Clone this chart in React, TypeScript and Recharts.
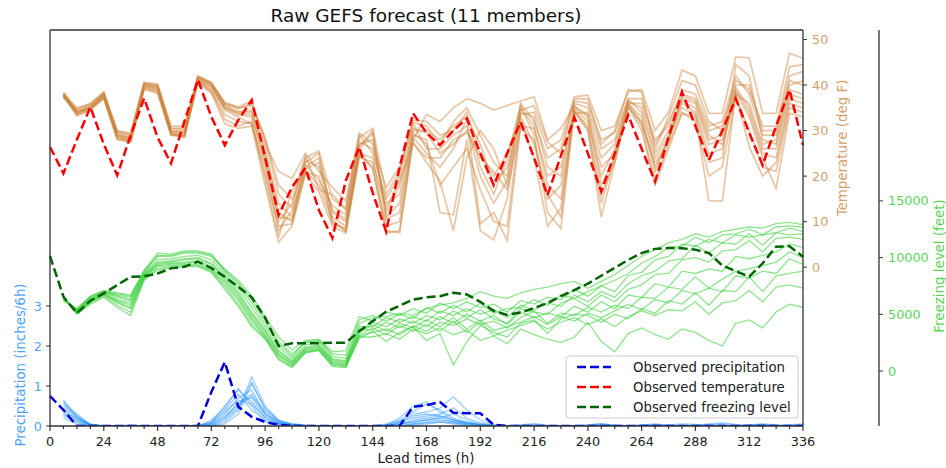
import React from 'react';
import { ComposedChart, Line, XAxis, YAxis } from 'recharts';

// lead times every 6 h
const leadTimes = [
  0, 6, 12, 18, 24, 30, 36, 42, 48, 54, 60, 66, 72, 78, 84, 90, 96, 102, 108, 114,
  120, 126, 132, 138, 144, 150, 156, 162, 168, 174, 180, 186, 192, 198, 204, 210,
  216, 222, 228, 234, 240, 246, 252, 258, 264, 270, 276, 282, 288, 294, 300, 306,
  312, 318, 324, 330, 336,
];
const precipTicks = [0, 1, 2, 3];
const tempTicks = [0, 10, 20, 30, 40, 50];
const freezeTicks = [0, 5000, 10000, 15000];

// observations (from 0 h)
const obsPrecip = [
  0.75, 0.4, 0, 0, 0, 0, 0, 0, 0, 0, 0, 0, 0.85, 1.6, 0.48, 0.23, 0.1, 0.03, 0, 0,
  0, 0, 0, 0, 0, 0, 0, 0.48, 0.52, 0.6, 0.33, 0.32, 0.32, 0.03, 0, 0, 0, 0, 0, 0,
  0, 0, 0, 0, 0, 0, 0, 0, 0, 0, 0, 0, 0, 0, 0, 0, 0,
];
const obsTemp = [
  26.4, 20.6, 28, 35.2, 27, 20.2, 29, 37.1, 28.5, 22.8, 32, 41.2, 33, 26.8, 32.3, 36.7,
  24, 11.4, 17.6, 21.8, 12.5, 6.4, 19, 26.4, 16.3, 7.8, 22, 33.8, 29.5, 26.8, 30, 32.7,
  25, 18, 25, 31.9, 24, 15.8, 24.5, 32.9, 25, 16.6, 25, 33.4, 26, 18.8, 28.5, 38.5,
  31, 23.5, 30, 37, 29.5, 22.4, 31, 39, 26.8,
];
const obsFreeze = [
  10140, 6550, 5100, 6200, 6850, 7580, 8300, 8350, 8600, 9050, 9200, 9640, 9080, 8300,
  7430, 6500, 4700, 2200, 2450, 2450, 2450, 2500, 2500, 3500, 4400, 5230, 5750, 6300,
  6500, 6600, 6900, 6750, 6100, 5300, 4950, 5150, 5550, 6000, 6600, 7140, 7700, 8400,
  9100, 9800, 10400, 10770, 10850, 10820, 10700, 10400, 9300, 8800, 8320, 9500, 10960,
  11000, 10080,
];

// ensemble members, one row per lead time from 6 h, 11 members per row
const Z = [0, 0, 0, 0, 0, 0, 0, 0, 0, 0, 0];
const precipMembers = [
  [0.65, 0.45, 0.3, 0.55, 0.2, 0.4, 0.35, 0.5, 0.25, 0.6, 0.3], // 6
  [0.25, 0.2, 0.1, 0.3, 0.05, 0.15, 0.2, 0.25, 0.1, 0.2, 0.15],
  [0.02, 0.05, 0, 0.03, 0, 0.02, 0.01, 0.04, 0, 0.02, 0.01],
  Z, Z,
  [0, 0.02, 0, 0, 0.01, 0, 0, 0.02, 0, 0, 0], // 36
  Z, Z, Z, Z, Z,
  [0.05, 0.1, 0, 0.02, 0.15, 0, 0.05, 0.08, 0, 0.03, 0.1], // 72
  [0.3, 0.5, 0.1, 0.2, 0.45, 0.05, 0.25, 0.4, 0.15, 0.2, 0.35],
  [0.7, 0.9, 0.4, 0.6, 0.95, 0.3, 0.55, 0.8, 0.45, 0.5, 0.65],
  [0.9, 0.6, 1.23, 0.7, 0.5, 1.05, 0.8, 0.4, 1.1, 0.75, 0.55], // 90
  [0.3, 0.2, 0.5, 0.25, 0.1, 0.45, 0.35, 0.15, 0.4, 0.3, 0.2],
  [0.1, 0.05, 0.15, 0.08, 0.03, 0.12, 0.1, 0.05, 0.14, 0.08, 0.06],
  [0.03, 0.02, 0.05, 0.02, 0, 0.04, 0.03, 0.01, 0.05, 0.02, 0.02],
  [0, 0, 0.02, 0, 0, 0.01, 0, 0, 0.02, 0, 0], // 114
  Z, Z, Z, Z, Z,
  [0, 0, 0.05, 0, 0, 0.02, 0, 0, 0.03, 0, 0], // 150
  [0.05, 0.1, 0.15, 0, 0.05, 0.2, 0, 0.1, 0.12, 0.05, 0],
  [0.15, 0.3, 0.35, 0.05, 0.1, 0.5, 0.02, 0.2, 0.25, 0.1, 0.05],
  [0.2, 0.35, 0.55, 0.1, 0.15, 0.6, 0.05, 0.25, 0.3, 0.15, 0.08], // 168
  [0.25, 0.45, 0.4, 0.15, 0.2, 0.35, 0.1, 0.3, 0.25, 0.2, 0.1],
  [0.15, 0.73, 0.2, 0.1, 0.3, 0.15, 0.08, 0.45, 0.15, 0.1, 0.05],
  [0.08, 0.4, 0.1, 0.05, 0.15, 0.08, 0.03, 0.2, 0.08, 0.05, 0.02],
  [0.03, 0.15, 0.04, 0.02, 0.05, 0.03, 0.01, 0.08, 0.03, 0.02, 0], // 192
  [0.01, 0.03, 0.01, 0, 0.02, 0, 0, 0.02, 0, 0, 0],
  Z,
  [0, 0, 0, 0.03, 0, 0, 0, 0, 0, 0.02, 0], // 210
  [0, 0, 0, 0.06, 0, 0.02, 0, 0, 0, 0.03, 0],
  [0, 0, 0, 0.02, 0, 0, 0, 0, 0, 0, 0],
  Z, Z,
  [0, 0.02, 0, 0, 0, 0, 0, 0, 0.03, 0, 0], // 240
  [0.02, 0.05, 0, 0, 0, 0, 0.03, 0, 0.06, 0, 0],
  [0, 0.02, 0, 0, 0, 0, 0, 0, 0.02, 0, 0],
  Z,
  [0, 0, 0.03, 0, 0, 0, 0.02, 0, 0, 0, 0], // 264
  [0, 0, 0.05, 0, 0.02, 0, 0.04, 0, 0, 0, 0],
  [0, 0, 0.02, 0, 0, 0, 0, 0, 0, 0, 0.03],
  [0, 0, 0, 0, 0, 0, 0, 0, 0, 0, 0.05],
  [0, 0, 0, 0.02, 0, 0, 0, 0, 0, 0, 0.04], // 288
  [0, 0, 0, 0.05, 0, 0, 0, 0.03, 0, 0, 0.02],
  [0, 0, 0, 0.08, 0, 0, 0, 0.05, 0, 0, 0],
  [0, 0, 0, 0.04, 0, 0, 0, 0.02, 0, 0, 0],
  [0, 0.02, 0, 0, 0, 0.03, 0, 0, 0, 0.02, 0], // 312
  [0, 0.04, 0, 0, 0, 0.05, 0, 0, 0, 0.03, 0],
  [0, 0.02, 0, 0, 0, 0.03, 0, 0, 0, 0, 0],
  [0, 0, 0, 0, 0.03, 0, 0, 0, 0, 0, 0.02],
  [0, 0, 0, 0, 0.05, 0, 0, 0, 0, 0, 0.04], // 336
];
const tempMembers = [
  [38.0, 37.6, 38.4, 37.8, 37.2, 38.2, 37.9, 37.5, 38.1, 37.7, 37.4], // 6
  [34.0, 33.6, 34.5, 33.2, 34.8, 33.9, 34.2, 33.5, 35.0, 34.3, 33.8],
  [35.2, 34.8, 35.6, 34.5, 36.0, 35.0, 35.4, 34.7, 35.8, 35.1, 34.9],
  [37.8, 37.2, 38.3, 37.0, 38.5, 37.6, 38.0, 37.4, 38.2, 37.9, 37.3], // 24
  [29.0, 28.4, 29.6, 28.0, 30.0, 28.8, 29.3, 28.6, 29.8, 29.1, 28.2],
  [28.3, 27.8, 29.0, 27.5, 29.5, 28.0, 28.6, 27.9, 29.2, 28.4, 27.6],
  [40.0, 39.4, 40.4, 39.0, 40.6, 39.8, 40.2, 39.6, 40.3, 39.9, 39.2],
  [39.5, 38.8, 40.0, 38.2, 40.2, 39.2, 39.7, 38.9, 39.9, 39.4, 38.5], // 48
  [29.7, 29.2, 30.4, 29.0, 31.0, 29.5, 30.0, 29.3, 30.6, 29.8, 29.1],
  [29.4, 28.8, 30.2, 28.5, 31.0, 29.1, 29.8, 28.9, 30.5, 29.6, 28.7],
  [41.5, 41.0, 41.8, 40.6, 42.0, 41.2, 41.6, 40.9, 41.9, 41.4, 40.8],
  [40.0, 39.2, 40.5, 38.2, 40.6, 39.6, 40.2, 38.8, 40.4, 39.8, 38.5], // 72
  [35.5, 34.5, 36.0, 31.5, 35.8, 34.8, 35.2, 32.5, 36.2, 35.0, 33.5],
  [34.2, 33.0, 35.0, 30.5, 34.8, 33.5, 34.0, 31.0, 35.2, 33.8, 32.0],
  [34.0, 31.5, 35.5, 31.0, 36.0, 33.0, 34.5, 32.0, 36.5, 33.5, 31.5],
  [26.0, 22.0, 28.5, 18.0, 27.0, 24.0, 25.0, 19.5, 28.0, 23.0, 20.5], // 96
  [12.0, 8.0, 18.0, 5.5, 21.0, 10.0, 14.0, 6.5, 16.0, 11.0, 9.0],
  [10.0, 12.5, 15.0, 9.0, 19.5, 14.0, 11.0, 17.0, 13.0, 10.5, 9.5],
  [22.0, 21.0, 24.0, 20.5, 25.0, 23.0, 22.5, 21.5, 24.5, 23.5, 20.8],
  [24.0, 18.0, 25.5, 16.5, 21.0, 25.0, 19.0, 23.0, 17.0, 22.0, 20.0], // 120
  [12.0, 10.0, 15.0, 9.0, 17.5, 11.0, 13.5, 9.5, 16.0, 12.5, 10.5],
  [10.0, 8.0, 13.0, 7.5, 14.5, 9.0, 11.5, 8.5, 12.5, 10.5, 7.8],
  [27.0, 25.0, 28.5, 24.5, 29.5, 26.0, 27.5, 25.5, 29.0, 26.5, 24.2],
  [28.0, 24.0, 30.5, 22.0, 27.0, 29.5, 26.0, 21.5, 25.0, 30.0, 23.0], // 144
  [12.0, 9.0, 16.0, 7.5, 17.5, 11.0, 14.0, 8.0, 15.0, 10.5, 13.0],
  [18.0, 10.0, 21.0, 8.0, 22.0, 14.0, 16.0, 7.5, 20.0, 12.0, 19.0],
  [30.0, 28.0, 31.5, 27.5, 32.3, 29.0, 30.5, 28.5, 31.8, 29.5, 27.2],
  [30.0, 33.5, 26.0, 23.0, 32.0, 28.0, 29.5, 25.0, 31.0, 27.0, 24.0], // 168
  [28.0, 32.0, 26.0, 19.0, 29.0, 12.0, 25.0, 22.0, 27.0, 18.0, 24.0],
  [31.0, 35.0, 29.0, 8.0, 30.0, 11.5, 27.0, 26.0, 32.0, 22.0, 28.0],
  [33.0, 37.0, 31.0, 24.0, 34.0, 28.0, 30.0, 32.5, 35.0, 26.0, 29.5],
  [27.0, 36.0, 20.0, 30.0, 22.0, 8.0, 25.0, 9.5, 29.0, 17.0, 24.0], // 192
  [18.0, 34.5, 14.0, 26.0, 16.0, 6.0, 20.0, 12.0, 23.0, 10.0, 21.0],
  [22.0, 35.5, 19.0, 18.0, 24.0, 15.0, 25.0, 5.8, 20.0, 9.0, 17.0],
  [34.0, 36.5, 35.0, 33.5, 35.5, 34.5, 33.0, 31.0, 36.0, 32.5, 30.5],
  [33.0, 37.4, 31.0, 34.0, 29.0, 35.5, 27.0, 30.5, 32.0, 24.0, 28.0], // 216
  [22.0, 28.0, 18.0, 26.0, 12.0, 27.5, 15.0, 20.0, 24.0, 9.0, 16.0],
  [20.0, 30.5, 15.0, 28.0, 8.5, 25.0, 18.0, 22.0, 26.0, 13.0, 11.0],
  [36.0, 35.5, 34.5, 37.4, 35.0, 36.5, 34.0, 33.8, 37.0, 35.2, 34.2],
  [35.0, 33.0, 31.0, 37.8, 32.0, 36.0, 30.0, 34.0, 37.0, 33.5, 30.5], // 240
  [26.0, 22.0, 16.0, 30.0, 20.0, 28.0, 11.0, 24.0, 27.0, 18.0, 14.0],
  [28.0, 25.0, 23.0, 31.0, 26.0, 29.5, 22.8, 27.0, 30.0, 24.0, 24.5],
  [36.5, 35.0, 36.0, 38.5, 35.5, 37.0, 35.2, 36.8, 39.0, 35.8, 36.2],
  [35.0, 32.0, 36.0, 39.0, 31.0, 37.0, 30.0, 34.0, 38.5, 33.0, 31.5], // 264
  [25.0, 22.0, 27.0, 30.0, 19.0, 28.0, 18.0, 24.0, 26.0, 21.0, 23.0],
  [30.0, 28.0, 32.0, 34.0, 27.0, 31.0, 26.0, 29.0, 33.0, 28.5, 27.5],
  [37.0, 36.0, 38.0, 43.3, 34.0, 39.0, 33.8, 36.5, 41.0, 35.0, 37.5],
  [36.0, 34.0, 37.0, 42.0, 32.0, 38.0, 33.0, 35.0, 40.0, 33.5, 36.5], // 288
  [28.0, 25.0, 30.0, 33.8, 20.0, 31.0, 14.6, 27.0, 32.0, 23.0, 29.0],
  [29.0, 26.0, 31.0, 33.8, 22.0, 32.0, 14.5, 28.0, 30.0, 24.0, 27.0],
  [38.0, 39.0, 40.0, 46.2, 37.5, 42.0, 38.5, 39.5, 41.0, 44.5, 38.0],
  [36.0, 34.0, 40.0, 46.0, 30.0, 38.0, 33.0, 35.0, 39.0, 42.0, 26.4], // 312
  [27.0, 25.0, 30.0, 33.8, 22.0, 29.0, 24.0, 26.0, 31.0, 28.0, 20.0],
  [28.0, 24.0, 30.0, 33.8, 21.0, 29.0, 17.3, 26.0, 31.0, 27.0, 23.0],
  [40.0, 37.0, 42.0, 47.0, 35.0, 41.0, 33.8, 38.0, 44.0, 39.0, 36.0],
  [41.0, 36.0, 43.0, 45.9, 34.0, 40.0, 33.0, 37.0, 44.5, 38.0, 35.0], // 336
];
const freezeMembers = [
  [6400, 6500, 6300, 6600, 6200, 6450, 6350, 6550, 6250, 6480, 6380], // 6
  [5300, 5100, 5400, 5000, 5500, 5200, 5350, 5050, 5450, 5250, 5150],
  [6300, 6100, 6500, 5900, 6600, 6200, 6400, 6000, 6550, 6250, 6150],
  [6900, 6700, 7000, 6500, 7100, 6800, 6950, 6600, 7050, 6850, 6750], // 24
  [6500, 6000, 6800, 5600, 6900, 6200, 6600, 5800, 6700, 6300, 6100],
  [6200, 5500, 6600, 4900, 6700, 5800, 6300, 5200, 6500, 6000, 5600],
  [8500, 8200, 8800, 8000, 8900, 8400, 8600, 8100, 8700, 8450, 8300],
  [9600, 9200, 10100, 8900, 10400, 9400, 9800, 9000, 10200, 9500, 9300], // 48
  [9700, 9300, 10100, 9100, 10300, 9500, 9900, 9200, 10200, 9600, 9400],
  [9900, 9400, 10400, 9200, 10600, 9600, 10100, 9300, 10500, 9800, 9500],
  [10000, 9400, 10400, 9200, 10600, 9700, 10200, 9300, 10500, 9900, 9600],
  [9500, 8900, 10100, 8700, 10300, 9200, 9800, 8800, 10200, 9400, 9000], // 72
  [8400, 7600, 8900, 7200, 9000, 8000, 8600, 7400, 8800, 8200, 7800],
  [7000, 6200, 7800, 5700, 8000, 6600, 7300, 5900, 7600, 6800, 6400],
  [5200, 4400, 6300, 3900, 6600, 4800, 5600, 4100, 6000, 5000, 4600],
  [3600, 3000, 4500, 2800, 4800, 3300, 3900, 2900, 4200, 3500, 3100], // 96
  [1800, 1300, 2600, 1000, 3000, 1500, 2100, 1100, 2400, 1700, 1400],
  [900, 500, 1500, 300, 1850, 700, 1100, 400, 1300, 800, 600],
  [2100, 1700, 2500, 1600, 2700, 1900, 2300, 1650, 2600, 2000, 1800],
  [2300, 1900, 2700, 1800, 2800, 2100, 2500, 1850, 2650, 2200, 2000], // 120
  [900, 600, 1300, 400, 1700, 800, 1100, 500, 1500, 1000, 700],
  [700, 500, 1100, 300, 1800, 600, 900, 350, 1400, 800, 450],
  [3600, 3100, 4200, 2900, 4800, 3400, 3900, 3000, 4500, 3700, 3200],
  [4300, 3400, 4700, 3500, 4400, 4100, 3900, 3000, 4900, 3600, 3800], // 144
  [3900, 3700, 4800, 2600, 5200, 3500, 4700, 3300, 4400, 4300, 3200],
  [4600, 3200, 5100, 3400, 4900, 4200, 4300, 2800, 5000, 3800, 4000],
  [4200, 4000, 4900, 3900, 5500, 3800, 4800, 3700, 4600, 4400, 3500],
  [4900, 3500, 5500, 2700, 5100, 4500, 4400, 3300, 5600, 3900, 4100], // 168
  [4500, 4300, 5800, 3300, 6000, 3900, 5300, 3800, 5100, 4800, 3500],
  [5300, 4000, 6000, 530, 5500, 4700, 4900, 3200, 5800, 4200, 4400],
  [4700, 4600, 6400, 2600, 6100, 3700, 5500, 3600, 5200, 5000, 3400],
  [5400, 4100, 7000, 4000, 5600, 4500, 5000, 2700, 6000, 4400, 4300], // 192
  [4600, 4400, 6600, 3400, 5900, 3600, 5400, 3100, 5100, 4900, 3100],
  [4200, 3800, 6400, 3000, 5200, 3900, 4700, 2400, 5500, 4100, 3600],
  [5500, 4700, 6900, 4200, 6200, 4300, 5800, 3700, 5600, 5200, 4000],
  [5200, 5300, 7200, 4500, 5900, 4800, 5400, 3200, 6300, 4700, 4400], // 216
  [5000, 4200, 7400, 3300, 6500, 4100, 6000, 2800, 5800, 5100, 3700],
  [6000, 5100, 7700, 4600, 6300, 4800, 5700, 2500, 6700, 4800, 4300],
  [6400, 4900, 7900, 5000, 7200, 4400, 6700, 3000, 6400, 5700, 4700],
  [5700, 5600, 7300, 4900, 6600, 5100, 6100, 4300, 7000, 5200, 4100], // 240
  [6700, 5200, 7900, 4300, 7500, 4700, 7000, 2600, 7500, 6100, 4600],
  [6100, 5800, 8500, 5000, 7000, 5300, 6500, 1700, 8000, 5500, 3900],
  [7200, 5500, 9300, 4600, 8400, 5900, 7700, 3300, 8600, 6700, 4800],
  [7600, 6500, 10100, 5500, 8700, 5400, 8400, 3800, 9500, 6500, 5300], // 264
  [8500, 6400, 10700, 5100, 9800, 6300, 8800, 3200, 10100, 7700, 4900],
  [8600, 7400, 11300, 6200, 10100, 6000, 9700, 2800, 10900, 7400, 5400],
  [9800, 7200, 11600, 5900, 11200, 7100, 9900, 3700, 11000, 8800, 5300],
  [10000, 8300, 12100, 6900, 11000, 6800, 11100, 3400, 11800, 8600, 6100], // 288
  [9600, 7300, 11800, 5800, 11600, 7300, 10400, 2700, 11300, 9000, 5000],
  [10600, 8100, 12300, 7100, 11300, 7000, 11300, 2200, 12000, 8800, 6000],
  [10700, 8800, 12500, 7000, 12000, 8400, 11200, 4200, 12100, 10100, 6200],
  [11500, 9000, 12700, 8300, 11800, 8200, 12100, 4500, 12500, 9900, 7100], // 312
  [10500, 9300, 12600, 7000, 12000, 8800, 11100, 3800, 12000, 10200, 6100],
  [11700, 9600, 13000, 8400, 12200, 8600, 12200, 5200, 12700, 10500, 7400],
  [11800, 10500, 13100, 8600, 12600, 9900, 12000, 5900, 12800, 11200, 7600],
  [11600, 10000, 12900, 8800, 12300, 9400, 12100, 5600, 12700, 10900, 7300], // 336
];

const memberIds = [0, 1, 2, 3, 4, 5, 6, 7, 8, 9, 10];

const data = leadTimes.map((h, i) => {
  const row: Record<string, number | null> = {
    h,
    obsP: obsPrecip[i],
    obsT: obsTemp[i],
    obsF: obsFreeze[i],
  };
  memberIds.forEach((m) => {
    row['p' + m] = i === 0 ? null : precipMembers[i - 1][m];
    row['t' + m] = i === 0 ? null : tempMembers[i - 1][m];
    row['f' + m] = i === 0 ? null : freezeMembers[i - 1][m];
  });
  return row;
});

const FONT = 'DejaVu Sans, sans-serif';
const SPINE = '#333';
const TEMP_TXT = '#d4a06a';
const PRECIP_TXT = '#4da3f5';
const FREEZE_TXT = '#5ad35a';

// axis ids: right axes are stacked outward in id order
const AX_P = 'p';
const AX_T = 'r1';
const AX_F = 'r2';

const XTick = (props: any) => {
  const { x, y, payload } = props;
  const y0 = y - 8;
  const major = payload.value % 24 === 0;
  return (
    <g>
      <line x1={x} x2={x} y1={y0} y2={y0 + (major ? 5 : 3)} stroke={SPINE} strokeWidth={1.2} />
      {major && (
        <text x={x} y={y0 + 20} textAnchor="middle" fontSize={12.8} fontFamily={FONT} fill="#222">
          {payload.value}
        </text>
      )}
    </g>
  );
};

const legendItems = [
  { label: 'Observed precipitation', color: '#0000dd' },
  { label: 'Observed temperature', color: '#ff0000' },
  { label: 'Observed freezing level', color: '#006400' },
];

export default function App() {
  return (
    <div style={{ position: 'absolute', left: 0, top: 0, width: 946, height: 468, background: '#fff' }}>
      <ComposedChart width={946} height={468} data={data} margin={{ top: 30, right: 7, bottom: 0, left: 20 }}>
        <XAxis
          dataKey="h"
          type="number"
          domain={[0, 336]}
          ticks={leadTimes}
          interval={0}
          tick={<XTick />}
          tickLine={false}
          tickSize={6}
          tickMargin={2}
          height={42}
          axisLine={{ stroke: SPINE, strokeWidth: 1.3 }}
        />
        <YAxis
          yAxisId={AX_P}
          orientation="left"
          width={30}
          domain={[0, 9.9]}
          ticks={precipTicks}
          interval={0}
          allowDataOverflow
          tickSize={4}
          tickMargin={4}
          stroke={SPINE}
          axisLine={{ stroke: SPINE, strokeWidth: 1.3 }}
          tick={{ fill: PRECIP_TXT, fontSize: 12.8, fontFamily: FONT }}
        />
        <YAxis
          yAxisId={AX_T}
          orientation="right"
          width={76}
          domain={[-34.9, 52.1]}
          ticks={tempTicks}
          interval={0}
          allowDataOverflow
          tickSize={4}
          tickMargin={5}
          stroke={SPINE}
          axisLine={{ stroke: SPINE, strokeWidth: 1.3 }}
          tick={{ fill: TEMP_TXT, fontSize: 12.8, fontFamily: FONT }}
        />
        <YAxis
          yAxisId={AX_F}
          orientation="right"
          width={60}
          domain={[-4850, 30070]}
          ticks={freezeTicks}
          interval={0}
          allowDataOverflow
          tickSize={4}
          tickMargin={5}
          stroke={SPINE}
          axisLine={{ stroke: SPINE, strokeWidth: 1.3 }}
          tick={{ fill: FREEZE_TXT, fontSize: 12.8, fontFamily: FONT }}
        />

        {memberIds.map((m) => (
          <Line key={'t' + m} yAxisId={AX_T} dataKey={'t' + m} stroke="#cd853f" strokeOpacity={0.45}
            strokeWidth={1.8} dot={false} activeDot={false} isAnimationActive={false} />
        ))}
        {memberIds.map((m) => (
          <Line key={'f' + m} yAxisId={AX_F} dataKey={'f' + m} stroke="#32cd32" strokeOpacity={0.55}
            strokeWidth={1.3} dot={false} activeDot={false} isAnimationActive={false} />
        ))}
        {memberIds.map((m) => (
          <Line key={'p' + m} yAxisId={AX_P} dataKey={'p' + m} stroke="#1e90ff" strokeOpacity={0.45}
            strokeWidth={1.3} dot={false} activeDot={false} isAnimationActive={false} />
        ))}

        <Line yAxisId={AX_P} dataKey="obsP" stroke="#0000dd" strokeWidth={2.5} strokeDasharray="9 4"
          dot={false} activeDot={false} isAnimationActive={false} />
        <Line yAxisId={AX_T} dataKey="obsT" stroke="#ff0000" strokeWidth={2.5} strokeDasharray="9 4"
          dot={false} activeDot={false} isAnimationActive={false} />
        <Line yAxisId={AX_F} dataKey="obsF" stroke="#006400" strokeWidth={2.5} strokeDasharray="9 4"
          dot={false} activeDot={false} isAnimationActive={false} />
      </ComposedChart>

      <svg width={946} height={468} style={{ position: 'absolute', left: 0, top: 0, pointerEvents: 'none' }}>
        <line x1={50} x2={803} y1={30} y2={30} stroke={SPINE} strokeWidth={1.3} />
        <text x={426} y={22} textAnchor="middle" fontSize={18.5} fontFamily={FONT} fill="#111">
          Raw GEFS forecast (11 members)
        </text>
        <text x={426} y={463} textAnchor="middle" fontSize={13.4} fontFamily={FONT} fill="#222">
          Lead times (h)
        </text>
        <text transform="translate(20,365) rotate(-90)" textAnchor="middle" dominantBaseline="central"
          fontSize={13.4} fontFamily={FONT} fill={PRECIP_TXT}>
          Precipitation (inches/6h)
        </text>
        <text transform="translate(842,148) rotate(-90)" textAnchor="middle" dominantBaseline="central"
          fontSize={13.4} fontFamily={FONT} fill={TEMP_TXT}>
          Temperature (deg F)
        </text>
        <text transform="translate(939,266) rotate(-90)" textAnchor="middle" dominantBaseline="central"
          fontSize={13.4} fontFamily={FONT} fill={FREEZE_TXT}>
          Freezing level (feet)
        </text>

        <rect x={566} y={356} width={232} height={62} rx={3} fill="#fff" fillOpacity={0.85}
          stroke="#cccccc" strokeWidth={1} />
        {legendItems.map((it, i) => (
          <g key={it.label}>
            <line x1={577} x2={611} y1={367 + i * 20} y2={367 + i * 20} stroke={it.color}
              strokeWidth={2.5} strokeDasharray="9 4" />
            <text x={633} y={367 + i * 20} dominantBaseline="central" fontSize={13.3} fontFamily={FONT} fill="#222">
              {it.label}
            </text>
          </g>
        ))}
      </svg>
    </div>
  );
}
